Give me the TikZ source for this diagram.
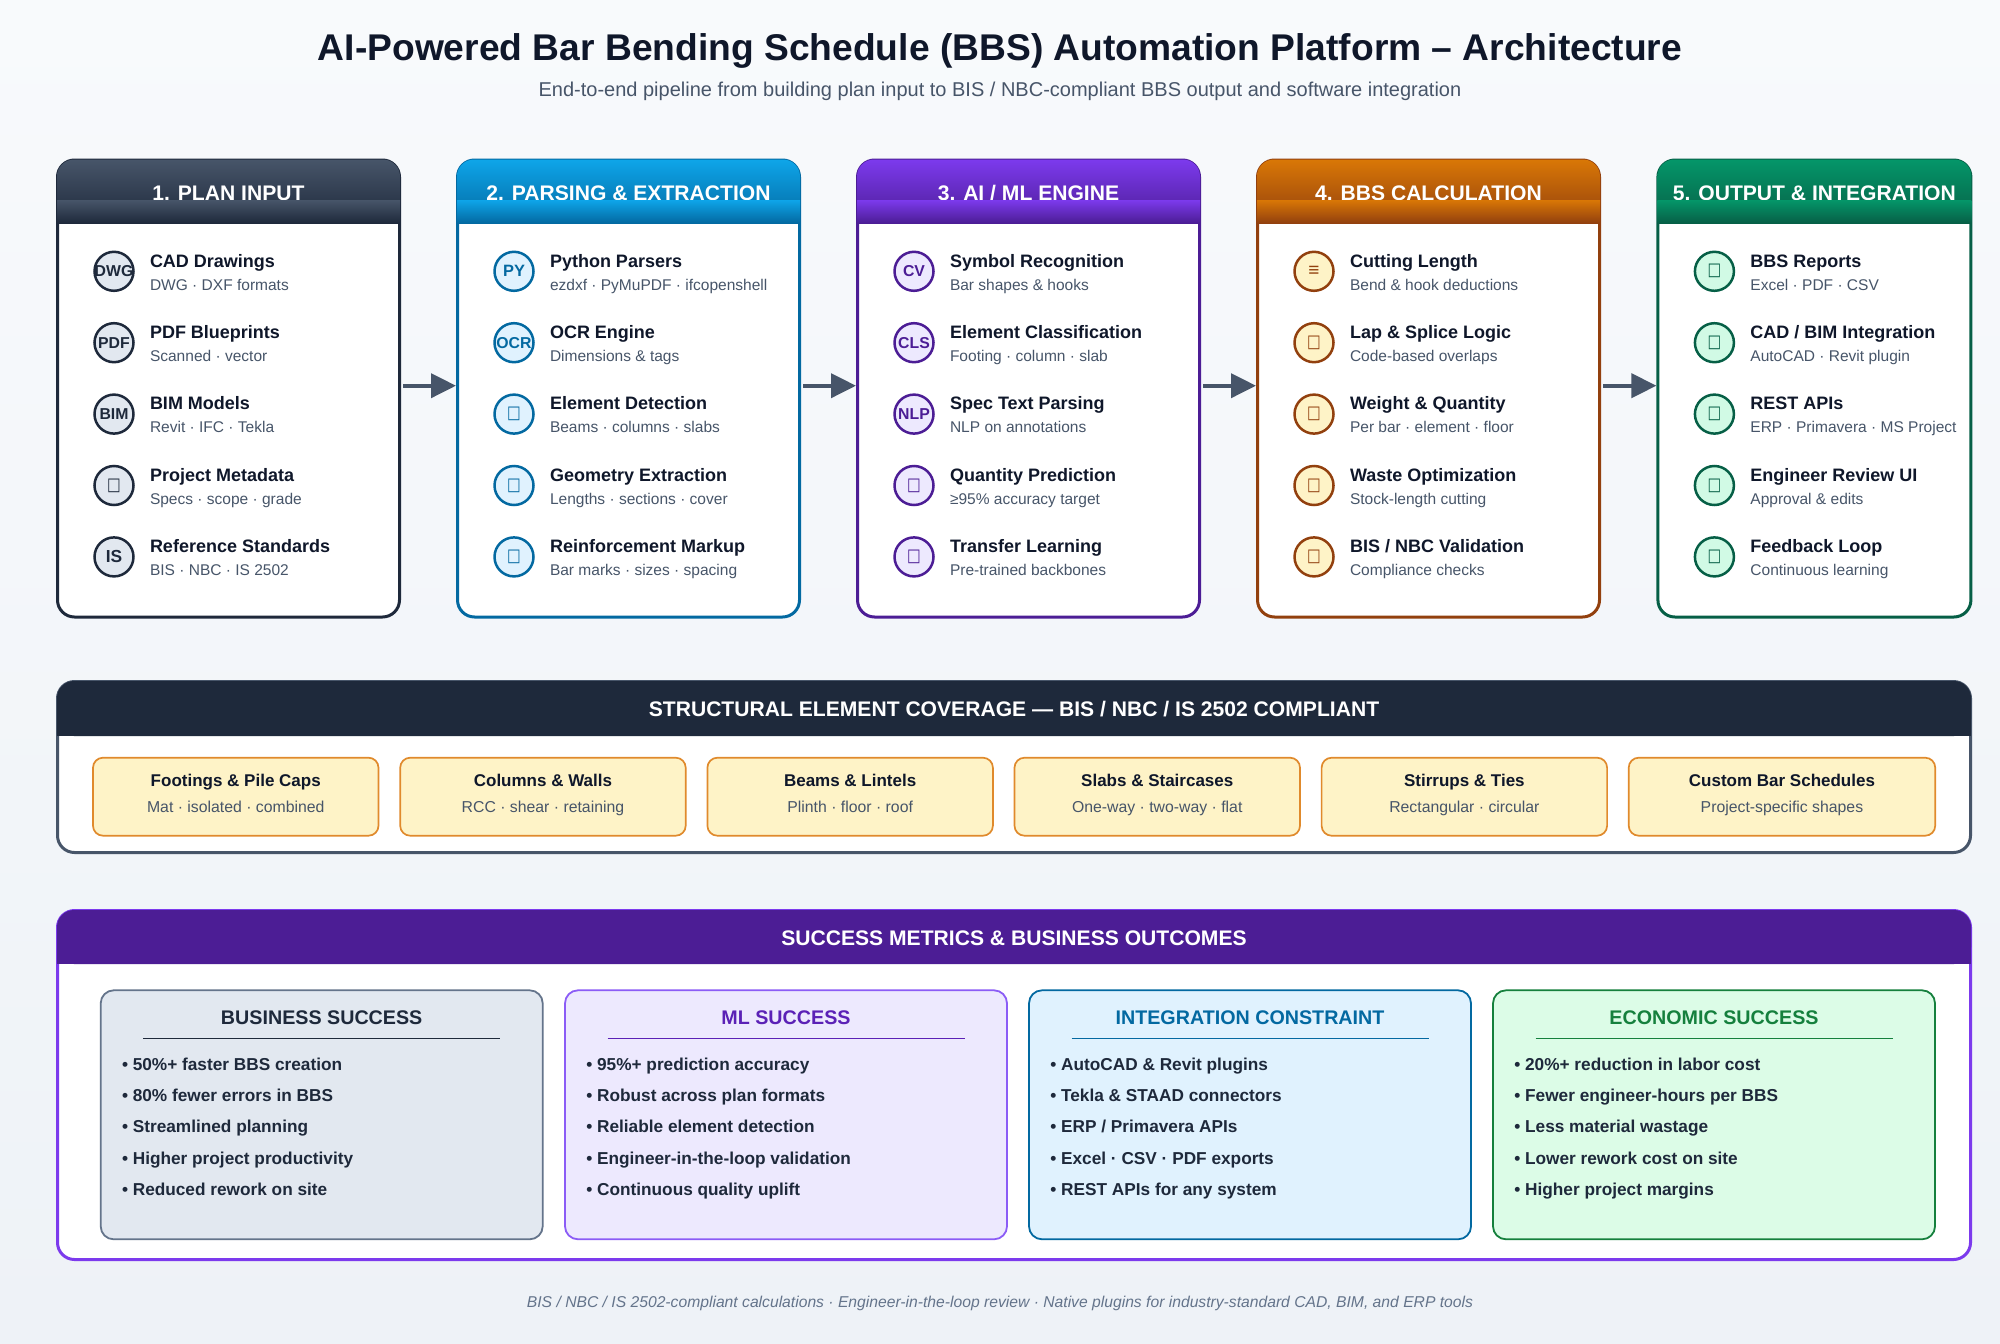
\documentclass[tikz,border=0pt]{standalone}
\usepackage{fontspec}
\usepackage{graphicx}
\setmainfont{Liberation Sans}
\newfontfamily\djv{DejaVu Sans}
\usetikzlibrary{arrows.meta}
\newcommand{\fs}[1]{\fontsize{#1}{#1}\selectfont}
\definecolor{pagetop}{HTML}{F8FAFC}
\definecolor{pagebot}{HTML}{EEF2F7}
\definecolor{ink}{HTML}{0F172A}
\definecolor{slate}{HTML}{1E293B}
\definecolor{mute}{HTML}{475569}
\definecolor{foot}{HTML}{64748B}
\definecolor{cA}{HTML}{1E293B}\definecolor{tA}{HTML}{475569}\definecolor{lA}{HTML}{E2E8F0}
\definecolor{cB}{HTML}{0369A1}\definecolor{tB}{HTML}{0EA5E9}\definecolor{lB}{HTML}{E0F2FE}
\definecolor{cC}{HTML}{4C1D95}\definecolor{tC}{HTML}{7C3AED}\definecolor{lC}{HTML}{EDE9FE}
\definecolor{cD}{HTML}{92400E}\definecolor{tD}{HTML}{D97706}\definecolor{lD}{HTML}{FEF3C7}
\definecolor{cE}{HTML}{065F46}\definecolor{tE}{HTML}{059669}\definecolor{lE}{HTML}{D1FAE5}
\definecolor{gG}{HTML}{15803D}\definecolor{lG}{HTML}{DCFCE7}
\definecolor{gS}{HTML}{64748B}
\definecolor{gV}{HTML}{8B5CF6}
\definecolor{gT}{HTML}{5B21B6}
\definecolor{cardline}{HTML}{E08A2C}
\tikzset{
  x=0.5pt,y=-0.5pt,
  wh/.style 2 args={minimum width=#1*0.5pt,minimum height=#2*0.5pt},
  tight/.style={inner sep=0pt,outer sep=0pt},
  panelbox/.style={tight,anchor=north west,rectangle,rounded corners=8.5pt,fill=white,line width=1.5pt},
  iconc/.style={tight,circle,minimum size=19.5pt,line width=1.25pt,font=\fs{7.9}\bfseries},
  itemt/.style={tight,anchor=base west,font=\fs{9}\bfseries,text=ink},
  items/.style={tight,anchor=base west,font=\fs{7.76},text=mute},
  headt/.style={tight,anchor=base,font=\fs{10.55}\bfseries,text=white},
  cardbox/.style={tight,anchor=north west,rectangle,rounded corners=5pt,fill=lD,draw=cardline,line width=.85pt},
  cardt/.style={tight,anchor=base,font=\fs{8.5}\bfseries,text=ink},
  cards/.style={tight,anchor=base,font=\fs{7.9},text=mute},
  subbox/.style={tight,anchor=north west,rectangle,rounded corners=6.5pt,line width=.9pt},
  subt/.style={tight,anchor=base,font=\fs{9.85}\bfseries},
  bul/.style={tight,anchor=base west,font=\fs{8.62}\bfseries,text=slate},
  flow/.style={draw=mute,line width=2pt,-{Triangle[length=12.5pt,width=12pt]},shorten <=1.75pt,shorten >=0.75pt},
}
\newcommand{\tof}{\makebox[0pt]{\raisebox{-.3pt}{\scalebox{0.85}[1.05]{\djv\fontsize{8.5}{8.5}\selectfont\mdseries □}}}}
\newcommand{\ic}[1]{\makebox[0pt]{\raisebox{-.5pt}{#1}}}
% name, x, width, title, colour key
\newcommand{\panel}[5]{%
  \node[panelbox,draw=c#5,wh={#3}{457}] (#1) at (#2,160) {};
  \shade[top color=t#5,bottom color=c#5,rounded corners=8.5pt] (#2-0.5,159.5) rectangle (#2+#3+0.5,223);
  \node[headt] (#1h) at (#2+#3/2,200.5) {#4};
  \shade[top color=t#5,bottom color=c#5] (#2-0.5,200) rectangle (#2+#3+0.5,223);
}
% panel name, x, row, colour key, icon, title, sub
\newcommand{\pitem}[7]{%
  \node[iconc,draw=c#4,fill=l#4,text=c#4] (#1i#3) at (#2+56.5,271.3+71.4*#3-71.4) {#5};
  \node[itemt] (#1t#3) at (#2+92.5,267+71.4*#3-71.4) {#6};
  \node[items] (#1s#3) at (#2+92.5,290+71.4*#3-71.4) {#7};
}
% name, x, width, title, sub
\newcommand{\card}[5]{%
  \node[cardbox,wh={#3}{78}] (#1) at (#2,757.7) {};
  \node[cardt] (#1t) at (#2+#3/2,786) {#4};
  \node[cards] (#1s) at (#2+#3/2,812.7) {#5};
}
% name, x, fill, stroke, title colour, title
\newcommand{\metric}[6]{%
  \node[subbox,fill=#3,draw=#4,wh={442}{249}] (#1) at (#2,990.3) {};
  \node[subt,text=#5] (#1t) at (#2+221,1024.5) {#6};
  \coordinate (#1a) at (#2+42.5,1038.3);
  \coordinate (#1b) at (#2+399.5,1038.3);
  \draw[draw=#5,line width=.75pt] (#1a) -- (#1b);
}
\newcommand{\bullets}[6]{%
  \node[bul] (#1b1) at (#2+21.3,1070) {• #3};
  \node[bul] (#1b2) at (#2+21.3,1101.4) {• #4};
  \node[bul] (#1b3) at (#2+21.3,1132.8) {• #5};
  \node[bul] (#1b4) at (#2+21.3,1164.2) {• #6};
}
\begin{document}
\begin{tikzpicture}
\useasboundingbox (0,0) rectangle (2000,1343);
\shade[top color=pagetop,bottom color=pagebot] (0,0) rectangle (2000,1343);
\node[tight,anchor=base,font=\fs{18.6}\bfseries,text=ink] (title) at (1000,61) {AI-Powered Bar Bending Schedule (BBS) Automation Platform – Architecture};
\node[tight,anchor=base,font=\fs{10},text=mute] (subtitle) at (1000,97) {End-to-end pipeline from building plan input to BIS / NBC-compliant BBS output and software integration};

\panel{pa}{57.5}{342}{1. PLAN INPUT}{A}
\panel{pb}{457.5}{342}{2. PARSING \& EXTRACTION}{B}
\panel{pc}{857.5}{342}{3. AI / ML ENGINE}{C}
\panel{pd}{1257.5}{342}{4. BBS CALCULATION}{D}
\panel{pe}{1657.9}{313}{5. OUTPUT \& INTEGRATION}{E}

\pitem{pa}{57.5}{1}{A}{\ic{DWG}}{CAD Drawings}{DWG · DXF formats}
\pitem{pa}{57.5}{2}{A}{\ic{PDF}}{PDF Blueprints}{Scanned · vector}
\pitem{pa}{57.5}{3}{A}{\ic{BIM}}{BIM Models}{Revit · IFC · Tekla}
\pitem{pa}{57.5}{4}{A}{\tof}{Project Metadata}{Specs · scope · grade}
\pitem{pa}{57.5}{5}{A}{\ic{\fs{8.7}IS}}{Reference Standards}{BIS · NBC · IS 2502}

\pitem{pb}{457.5}{1}{B}{\ic{\fs{8.2}PY}}{Python Parsers}{ezdxf · PyMuPDF · ifcopenshell}
\pitem{pb}{457.5}{2}{B}{\ic{OCR}}{OCR Engine}{Dimensions \& tags}
\pitem{pb}{457.5}{3}{B}{\tof}{Element Detection}{Beams · columns · slabs}
\pitem{pb}{457.5}{4}{B}{\tof}{Geometry Extraction}{Lengths · sections · cover}
\pitem{pb}{457.5}{5}{B}{\tof}{Reinforcement Markup}{Bar marks · sizes · spacing}

\pitem{pc}{857.5}{1}{C}{\ic{CV}}{Symbol Recognition}{Bar shapes \& hooks}
\pitem{pc}{857.5}{2}{C}{\ic{CLS}}{Element Classification}{Footing · column · slab}
\pitem{pc}{857.5}{3}{C}{\ic{NLP}}{Spec Text Parsing}{NLP on annotations}
\pitem{pc}{857.5}{4}{C}{\tof}{Quantity Prediction}{≥95\% accuracy target}
\pitem{pc}{857.5}{5}{C}{\tof}{Transfer Learning}{Pre-trained backbones}

\pitem{pd}{1257.5}{1}{D}{\ic{\fs{9.5}≡}}{Cutting Length}{Bend \& hook deductions}
\pitem{pd}{1257.5}{2}{D}{\tof}{Lap \& Splice Logic}{Code-based overlaps}
\pitem{pd}{1257.5}{3}{D}{\tof}{Weight \& Quantity}{Per bar · element · floor}
\pitem{pd}{1257.5}{4}{D}{\tof}{Waste Optimization}{Stock-length cutting}
\pitem{pd}{1257.5}{5}{D}{\tof}{BIS / NBC Validation}{Compliance checks}

\pitem{pe}{1657.9}{1}{E}{\tof}{BBS Reports}{Excel · PDF · CSV}
\pitem{pe}{1657.9}{2}{E}{\tof}{CAD / BIM Integration}{AutoCAD · Revit plugin}
\pitem{pe}{1657.9}{3}{E}{\tof}{REST APIs}{ERP · Primavera · MS Project}
\pitem{pe}{1657.9}{4}{E}{\tof}{Engineer Review UI}{Approval \& edits}
\pitem{pe}{1657.9}{5}{E}{\tof}{Feedback Loop}{Continuous learning}

\draw[flow] ([yshift=1.4pt]pa.east) -- ([yshift=1.4pt]pb.west);
\draw[flow] ([yshift=1.4pt]pb.east) -- ([yshift=1.4pt]pc.west);
\draw[flow] ([yshift=1.4pt]pc.east) -- ([yshift=1.4pt]pd.west);
\draw[flow] ([yshift=1.4pt]pd.east) -- ([yshift=1.4pt]pe.west);

% Structural coverage
\node[panelbox,draw=mute,wh={1913}{171}] (cov) at (57.5,681.5) {};
\fill[slate,rounded corners=8.5pt] (57,681) rectangle (1971,736);
\fill[slate] (57,710) rectangle (1971,736);
\node[headt] (covt) at (1014,716.7) {STRUCTURAL ELEMENT COVERAGE — BIS / NBC / IS 2502 COMPLIANT};
\card{ca}{93}{285.5}{Footings \& Pile Caps}{Mat · isolated · combined}
\card{cb}{400.2}{285.5}{Columns \& Walls}{RCC · shear · retaining}
\card{cc}{707.4}{285.5}{Beams \& Lintels}{Plinth · floor · roof}
\card{cd}{1014.5}{285.5}{Slabs \& Staircases}{One-way · two-way · flat}
\card{ce}{1321.6}{285.5}{Stirrups \& Ties}{Rectangular · circular}
\card{cf}{1628.7}{306.5}{Custom Bar Schedules}{Project-specific shapes}

% Success metrics
\node[panelbox,draw=tC,wh={1913}{349}] (met) at (57.5,910.5) {};
\fill[cC,rounded corners=8.5pt] (57,910) rectangle (1971,964);
\fill[cC] (57,940) rectangle (1971,964);
\node[headt] (mett) at (1014,945) {SUCCESS METRICS \& BUSINESS OUTCOMES};

\metric{ma}{100.7}{lA}{gS}{slate}{BUSINESS SUCCESS}
\bullets{ma}{100.7}{50\%+ faster BBS creation}{80\% fewer errors in BBS}{Streamlined planning}{Higher project productivity}
\node[bul] (mab5) at (122,1195.6) {• Reduced rework on site};
\metric{mb}{565}{lC}{gV}{gT}{ML SUCCESS}
\bullets{mb}{565}{95\%+ prediction accuracy}{Robust across plan formats}{Reliable element detection}{Engineer-in-the-loop validation}
\node[bul] (mbb5) at (586.3,1195.6) {• Continuous quality uplift};
\metric{mc}{1029}{lB}{cB}{cB}{INTEGRATION CONSTRAINT}
\bullets{mc}{1029}{AutoCAD \& Revit plugins}{Tekla \& STAAD connectors}{ERP / Primavera APIs}{Excel · CSV · PDF exports}
\node[bul] (mcb5) at (1050.3,1195.6) {• REST APIs for any system};
\metric{md}{1493}{lG}{gG}{gG}{ECONOMIC SUCCESS}
\bullets{md}{1493}{20\%+ reduction in labor cost}{Fewer engineer-hours per BBS}{Less material wastage}{Lower rework cost on site}
\node[bul] (mdb5) at (1514.3,1195.6) {• Higher project margins};

\node[tight,anchor=base,font=\fs{7.84}\itshape,text=foot] (foot) at (1000,1307) {BIS / NBC / IS 2502-compliant calculations · Engineer-in-the-loop review · Native plugins for industry-standard CAD, BIM, and ERP tools};
\end{tikzpicture}
\end{document}
